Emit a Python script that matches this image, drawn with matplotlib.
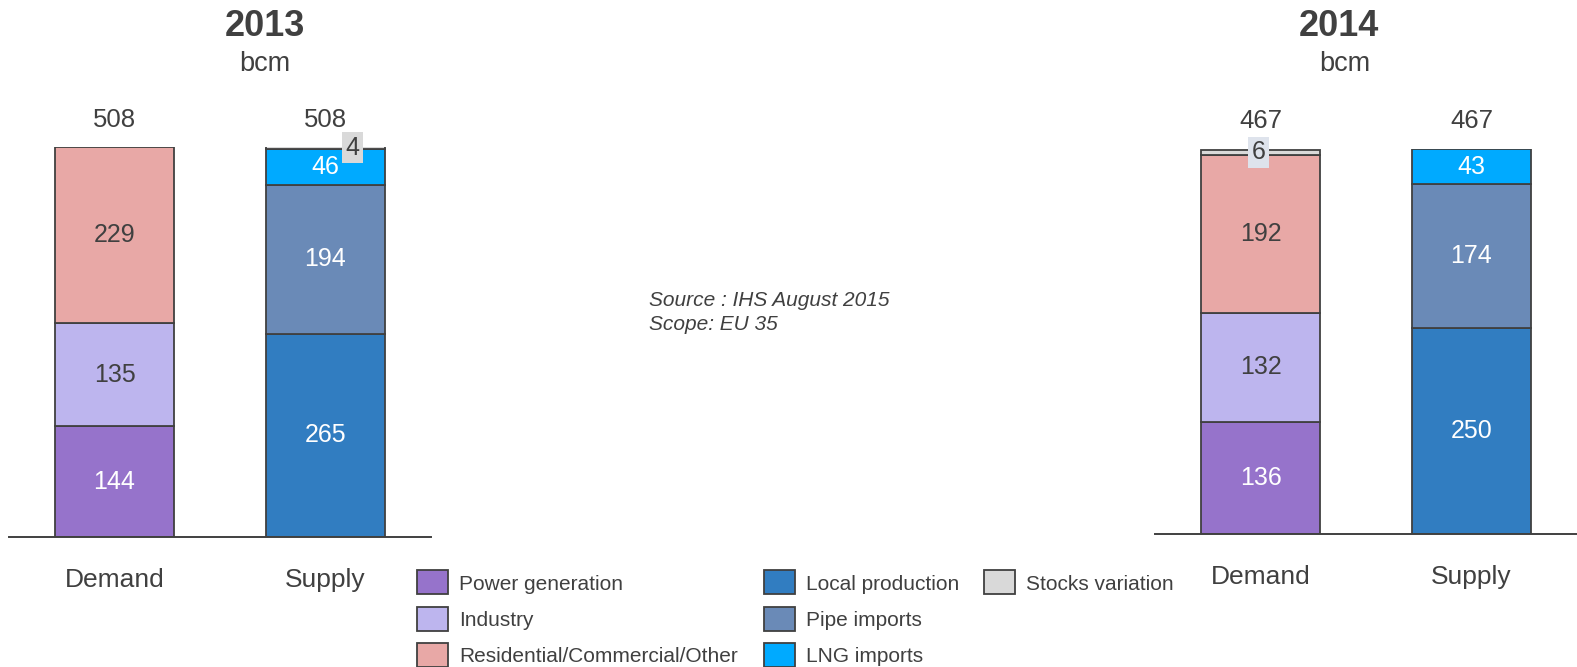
import matplotlib
matplotlib.use("Agg")
import matplotlib.pyplot as plt
from matplotlib.patches import Rectangle

plt.rcParams['font.family'] = ['Liberation Sans', 'DejaVu Sans']

W, H = 1577, 667
DARK = '#404040'

# data (bcm)
bars = ['Demand', 'Supply']
demand_2013 = [144, 135, 229]
supply_2013 = [265, 194, 46]
stocks_2013 = 4          # on supply side
totals_2013 = [508, 508]
demand_2014 = [136, 132, 192]
supply_2014 = [250, 174, 43]
stocks_2014 = 6          # on demand side
totals_2014 = [467, 467]

demand_names = ['Power generation', 'Industry', 'Residential/Commercial/Other']
supply_names = ['Local production', 'Pipe imports', 'LNG imports']
demand_colors = ['#9673CB', '#BDB5EE', '#E8A8A6']
supply_colors = ['#317DC1', '#6A8AB7', '#00AAFF']
demand_txt = ['white', DARK, DARK]
supply_txt = ['white', 'white', 'white']
stocks_color = '#D9D9D9'


def fx(x):
    return x / W


def fy(y):
    return 1 - y / H


def panel(x0, ybase, height_px, ymax, demand, supply, stocks, stock_side,
          stock_dx, stock_box, totals, total_gap):
    ax = fig.add_axes([fx(x0), fy(ybase), 422 / W, height_px / H])
    ax.set_xlim(-0.5, 1.5)
    ax.set_ylim(0, ymax)
    bw = 0.56
    gap = total_gap * ymax / height_px   # pixels -> data units
    for i, (vals, cols, tc) in enumerate([(demand, demand_colors, demand_txt),
                                          (supply, supply_colors, supply_txt)]):
        bottom = 0
        for v, c, t in zip(vals, cols, tc):
            ax.bar(i, v, bw, bottom=bottom, color=c, edgecolor=DARK, lw=1.3, zorder=2)
            ax.text(i, bottom + v / 2, str(v), ha='center', va='center',
                    fontsize=18, color=t, zorder=4)
            bottom += v
        if i == stock_side:
            ax.bar(i, stocks, bw, bottom=bottom, color=stocks_color,
                   edgecolor=DARK, lw=1.3, zorder=2)
            ax.text(i + stock_dx, bottom + stocks / 2, str(stocks), ha='center',
                    va='center', fontsize=18, color=DARK, zorder=5,
                    bbox=dict(facecolor=stock_box, edgecolor='none', pad=2.5))
        ax.text(i, totals[i] + gap, str(totals[i]), ha='center', va='bottom',
                fontsize=18.5, color=DARK)
    for s in ['top', 'right', 'left']:
        ax.spines[s].set_visible(False)
    ax.spines['bottom'].set_color(DARK)
    ax.spines['bottom'].set_linewidth(1.4)
    ax.set_yticks([])
    ax.set_xticks([0, 1])
    ax.set_xticklabels(bars, fontsize=19, color=DARK)
    ax.tick_params(axis='x', length=0, pad=22)
    ax.set_facecolor('none')
    return ax


fig = plt.figure(figsize=(W / 100, H / 100), dpi=100)

ax1 = panel(9, 537, 390, 508, demand_2013, supply_2013, stocks_2013, 1, 0.128,
            '#D9D9D9', totals_2013, 15)
ax2 = panel(1155, 534, 385, 467, demand_2014, supply_2014, stocks_2014, 0, -0.01,
            '#DEE3EC', totals_2014, 16)

fig.text(fx(265), fy(26), '2013', ha='center', va='center', fontsize=26,
         fontweight='bold', color=DARK)
fig.text(fx(265), fy(64), 'bcm', ha='center', va='center', fontsize=19.5, color=DARK)
fig.text(fx(1339), fy(26), '2014', ha='center', va='center', fontsize=26,
         fontweight='bold', color=DARK)
fig.text(fx(1345), fy(64), 'bcm', ha='center', va='center', fontsize=19.5, color=DARK)

fig.text(fx(649), fy(301), 'Source : IHS August 2015', ha='left', va='center',
         fontsize=15, style='italic', color=DARK)
fig.text(fx(649), fy(325), 'Scope: EU 35', ha='left', va='center',
         fontsize=15, style='italic', color=DARK)

# legend
legend_items = [
    (417, 582, demand_names[0], demand_colors[0]),
    (417, 619, demand_names[1], demand_colors[1]),
    (417, 655, demand_names[2], demand_colors[2]),
    (764, 582, supply_names[0], supply_colors[0]),
    (764, 619, supply_names[1], supply_colors[1]),
    (764, 655, supply_names[2], supply_colors[2]),
    (984, 582, 'Stocks variation', stocks_color),
]
for x, y, name, col in legend_items:
    fig.add_artist(Rectangle((fx(x), fy(y + 12)), 31 / W, 24 / H, transform=fig.transFigure,
                             facecolor=col, edgecolor=DARK, lw=1.3))
    fig.text(fx(x + 42), fy(y + 2), name, ha='left', va='center', fontsize=15, color=DARK)

fig.savefig('out.png', dpi=100)
